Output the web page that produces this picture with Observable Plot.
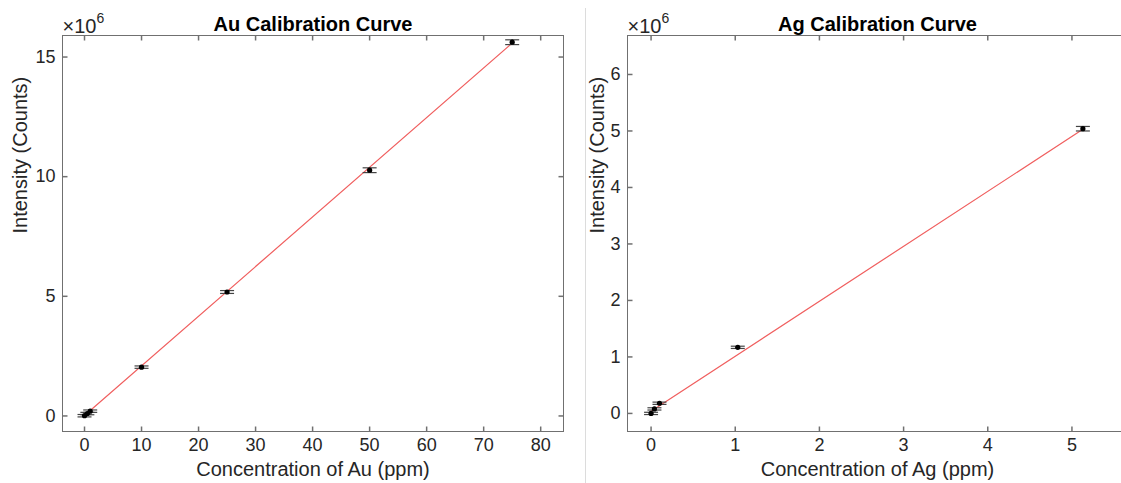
<!DOCTYPE html>
<html>
<head>
<meta charset="utf-8">
<script src="https://cdn.jsdelivr.net/npm/d3@7"></script>
<script src="https://cdn.jsdelivr.net/npm/@observablehq/plot@0.6"></script>
<style>
  html, body { margin: 0; padding: 0; background: white; }
  #wrap { position: relative; width: 1121px; height: 483px; overflow: hidden; }
  #left, #right { position: absolute; top: 0; }
  #left { left: 0; width: 580px; }
  #right { left: 586px; width: 560px; }
  #wrap svg { max-width: none !important; }
  #sep { position: absolute; left: 585px; top: 8px; width: 1px; height: 475px; background: #dcdcdc; }
</style>
</head>
<body>
<div id="wrap">
  <div id="left"></div>
  <div id="sep"></div>
  <div id="right"></div>
</div>
<script>
// ---- Au data (intensity in units of 10^6 counts) ----
const auConc = [0, 0.5, 1, 10, 25, 50, 75];
const auInt  = [0.01, 0.1, 0.2, 2.04, 5.18, 10.27, 15.62];
const auErr  = [0.05, 0.05, 0.05, 0.05, 0.06, 0.1, 0.1];
const auFitX = [0, 75];
const auFitY = [0.02, 15.58];
const auXTicks = [0, 10, 20, 30, 40, 50, 60, 70, 80];
const auYTicks = [0, 5, 10, 15];

// ---- Ag data ----
const agConc = [0, 0.04, 0.1, 1.03, 5.13];
const agInt  = [0.0, 0.08, 0.18, 1.17, 5.04];
const agErr  = [0.02, 0.02, 0.02, 0.02, 0.04];
const agFitX = [0, 5.13];
const agFitY = [0.04, 5.03];
const agXTicks = [0, 1, 2, 3, 4, 5];
const agYTicks = [0, 1, 2, 3, 4, 5, 6];

const FONT = "'Liberation Sans', Arial, Helvetica, sans-serif";
const TEXT = "#262626";
const AXIS = "#707070";

const sym = (x1, y1, x2, y2) => ({draw(ctx) { ctx.moveTo(x1, y1); ctx.lineTo(x2, y2); }});
const capSym = sym(-7, 0, 7, 0);
const tickUp = sym(0, 0, 0, -5);
const tickDown = sym(0, 0, 0, 5);
const tickRight = sym(0, 0, 5, 0);
const tickLeft = sym(0, 0, -5, 0);

function panel(cfg) {
  const pts = cfg.x.map((x, i) => ({x, y: cfg.y[i], lo: cfg.y[i] - cfg.e[i], hi: cfg.y[i] + cfg.e[i]}));
  const fit = cfg.fx.map((x, i) => ({x, y: cfg.fy[i]}));
  const [x0, x1] = cfg.xd, [y0, y1] = cfg.yd;
  return Plot.plot({
    width: cfg.width, height: 483,
    marginLeft: cfg.ml, marginRight: cfg.mr, marginTop: 35, marginBottom: 52,
    x: {domain: cfg.xd, axis: null},
    y: {domain: cfg.yd, axis: null},
    style: {fontFamily: FONT, color: TEXT, background: "white", overflow: "visible", maxWidth: "none"},
    marks: [
      Plot.frame({stroke: AXIS, strokeWidth: 1}),
      // inward ticks
      Plot.dot(cfg.xt, {x: d => d, y: () => y0, symbol: tickUp, stroke: AXIS, fill: "none"}),
      Plot.dot(cfg.xt, {x: d => d, y: () => y1, symbol: tickDown, stroke: AXIS, fill: "none"}),
      Plot.dot(cfg.yt, {y: d => d, x: () => x0, symbol: tickRight, stroke: AXIS, fill: "none"}),
      Plot.dot(cfg.yt, {y: d => d, x: () => x1, symbol: tickLeft, stroke: AXIS, fill: "none"}),
      Plot.axisX(cfg.xt, {anchor: "bottom", tickSize: 0, tickPadding: 7, fontSize: 18, label: null, color: TEXT, tickFormat: d => String(d)}),
      Plot.axisY(cfg.yt, {anchor: "left", tickSize: 0, tickPadding: 7, fontSize: 18, label: null, color: TEXT, tickFormat: d => String(d)}),
      // fit line
      Plot.line(fit, {x: "x", y: "y", stroke: "#f05f5f", strokeWidth: 1.2}),
      // error bars
      Plot.ruleX(pts, {x: "x", y1: "lo", y2: "hi", stroke: "#222", strokeWidth: 1}),
      Plot.dot(pts, {x: "x", y: "hi", symbol: capSym, stroke: "#444", fill: "none", strokeWidth: 1.2}),
      Plot.dot(pts, {x: "x", y: "lo", symbol: capSym, stroke: "#444", fill: "none", strokeWidth: 1.2}),
      Plot.dot(pts, {x: "x", y: "y", r: 2.6, fill: "black", stroke: "none"}),
      // texts
      Plot.text([cfg.title], {frameAnchor: "top", dy: -11, lineAnchor: "middle", fontSize: 20, fontWeight: "bold", fill: "black"}),
      Plot.text(["×10"], {frameAnchor: "top-left", textAnchor: "start", dx: 0, dy: -9, lineAnchor: "middle", fontSize: 20, fill: TEXT}),
      Plot.text(["6"], {frameAnchor: "top-left", textAnchor: "start", dx: 34, dy: -17, lineAnchor: "middle", fontSize: 14, fill: TEXT}),
      Plot.text([cfg.xlabel], {frameAnchor: "bottom", dy: 38, lineAnchor: "middle", fontSize: 20, fill: TEXT}),
      Plot.text(["Intensity (Counts)"], {frameAnchor: "left", dx: cfg.ydx, rotate: -90, lineAnchor: "middle", fontSize: 20, fill: TEXT})
    ]
  });
}

document.getElementById("left").appendChild(panel({
  x: auConc, y: auInt, e: auErr, fx: auFitX, fy: auFitY,
  xt: auXTicks, yt: auYTicks, xd: [-3.86, 84], yd: [-0.65, 15.9],
  width: 580, ml: 62, mr: 17, ydx: -42,
  title: "Au Calibration Curve", xlabel: "Concentration of Au (ppm)"
}));

document.getElementById("right").appendChild(panel({
  x: agConc, y: agInt, e: agErr, fx: agFitX, fy: agFitY,
  xt: agXTicks, yt: agYTicks, xd: [-0.28, 5.66], yd: [-0.32, 6.69],
  width: 560, ml: 41, mr: 19, ydx: -30,
  title: "Ag Calibration Curve", xlabel: "Concentration of Ag (ppm)"
}));
</script>
</body>
</html>
